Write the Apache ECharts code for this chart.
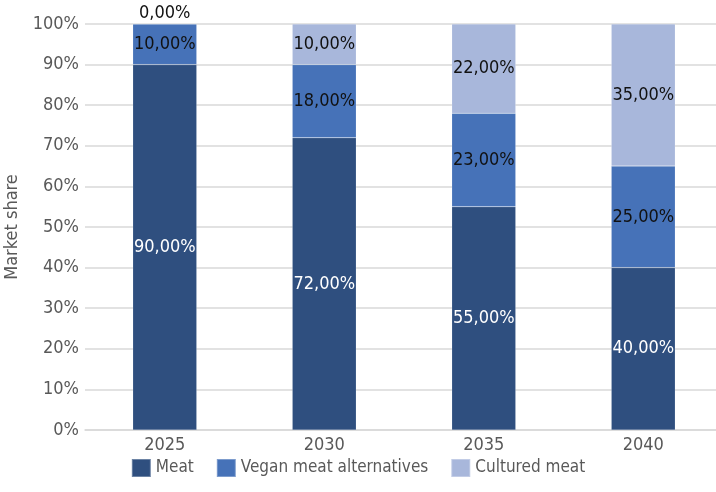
<!DOCTYPE html>
<html><head><meta charset="utf-8">
<script src="https://cdn.jsdelivr.net/npm/echarts@6/dist/echarts.min.js"></script>
<style>html,body{margin:0;padding:0;background:#fff}#c{width:716px;height:492px}</style>
</head><body><div id="c"></div>
<script>
const categories = ['2025', '2030', '2035', '2040'];
const meat = [90, 72, 55, 40];
const vegan = [10, 18, 23, 25];
const cultured = [0, 10, 22, 35];
const yTicks = [0, 10, 20, 30, 40, 50, 60, 70, 80, 90, 100];

const FONT = "'DejaVu Sans Condensed', 'Liberation Sans', Arial, sans-serif";
const fmt = v => v.toFixed(2).replace('.', ',') + '%';

const chart = echarts.init(document.getElementById('c'), null, {renderer: 'canvas'});
function mk(name, data, color, labelColor) {
  return {
    name, type: 'bar', stack: 'total', barWidth: 64,
    itemStyle: {color, borderColor: 'rgba(255,255,255,0.3)', borderWidth: 0.5},
    label: {show: true, position: 'inside', color: labelColor, fontFamily: FONT, fontSize: 18,
      formatter: p => fmt(p.value)},
    data: data.map(v => v === 0 && name === 'Cultured meat'
      ? {value: v, label: {position: 'top', distance: 1}} : v)
  };
}
chart.setOption({
  animation: false,
  grid: {left: 85, top: 24, width: 638, height: 406, outerBoundsMode: 'none', containLabel: false},
  legend: {
    bottom: 9, left: 'center', icon: 'rect', itemWidth: 19, itemHeight: 18, itemGap: 22,
    textStyle: {fontFamily: FONT, fontSize: 17, color: '#595959'},
    data: ['Meat', 'Vegan meat alternatives', 'Cultured meat']
  },
  xAxis: {
    type: 'category', data: categories,
    axisLine: {lineStyle: {color: '#d9d9d9', width: 1.5}},
    axisTick: {show: false},
    axisLabel: {fontFamily: FONT, fontSize: 18, color: '#595959', margin: 6}
  },
  yAxis: {
    type: 'value', min: 0, max: 100, interval: 10,
    name: 'Market share', nameLocation: 'middle', nameGap: 58, nameRotate: 90,
    nameTextStyle: {fontFamily: FONT, fontSize: 18, color: '#595959'},
    axisLabel: {fontFamily: FONT, fontSize: 18, color: '#595959', margin: 6,
      formatter: v => yTicks.includes(v) ? v + '%' : ''},
    splitLine: {lineStyle: {color: '#d9d9d9', width: 1.5}},
    axisLine: {show: false}, axisTick: {show: false}
  },
  series: [
    mk('Meat', meat, '#2F4F7F', '#ffffff'),
    mk('Vegan meat alternatives', vegan, '#4672B8', '#111111'),
    mk('Cultured meat', cultured, '#A8B7DB', '#111111')
  ]
});
</script></body></html>
